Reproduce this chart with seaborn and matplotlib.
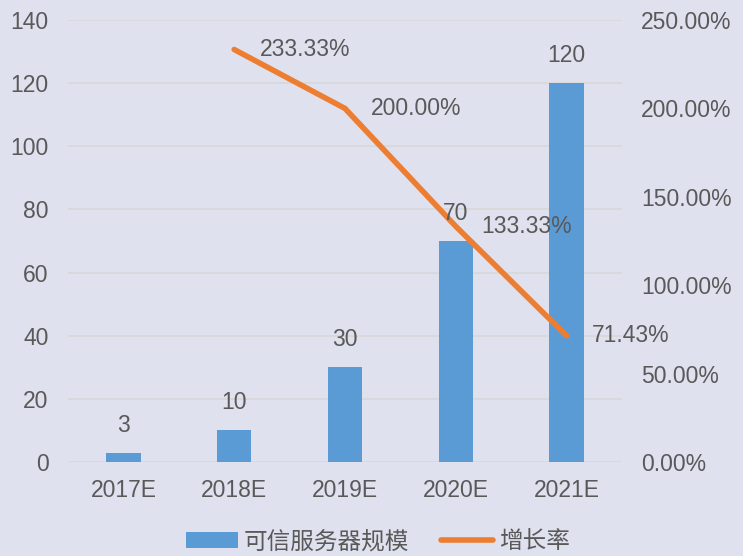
import matplotlib
matplotlib.use("Agg")
import matplotlib.pyplot as plt
import seaborn as sns
import pandas as pd
import numpy as np
from matplotlib.patches import Patch
from matplotlib.lines import Line2D

years = ["2017E", "2018E", "2019E", "2020E", "2021E"]
servers = [3, 10, 30, 70, 120]
growth = [np.nan, 2.3333, 2.0, 1.3333, 0.7143]
growth_labels = ["", "233.33%", "200.00%", "133.33%", "71.43%"]
bar_name = "可信服务器规模"
line_name = "增长率"

BLUE = "#5b9bd5"
ORANGE = "#ed7d31"
TEXT = "#595959"
BG = "#dfe1ee"
FS = 16.5

sns.set_style("white")
plt.rcParams["font.family"] = ["Liberation Sans", "Noto Sans CJK SC", "DejaVu Sans"]

df = pd.DataFrame({"year": years, "servers": servers, "growth": growth})

fig = plt.figure(figsize=(7.43, 5.56), dpi=100, facecolor=BG)
ax = fig.add_axes([0.0915, 0.169, 0.7455, 0.795])
ax.set_facecolor(BG)

sns.barplot(data=df, x="year", y="servers", color=BLUE, width=0.31,
            saturation=1, linewidth=0, ax=ax, zorder=3)
ax.set_ylim(0, 140)
ax.set_yticks(range(0, 141, 20))
ax.set_xlim(-0.5, 4.5)
ax.grid(axis="y", color="#d8d8d8", linewidth=1.2, zorder=0)
ax.set_xlabel("")
ax.set_ylabel("")
for s in ax.spines.values():
    s.set_visible(False)
ax.tick_params(axis="both", length=0, labelsize=FS, colors=TEXT)
ax.tick_params(axis="y", pad=14)
ax.tick_params(axis="x", pad=12)

ax2 = ax.twinx()
sns.lineplot(x=np.arange(len(years)), y=growth, color=ORANGE, linewidth=4,
             ax=ax2, zorder=4)
ax2.set_ylim(0, 2.5)
ax2.set_yticks(np.arange(0, 2.51, 0.5))
ax2.set_yticklabels([f"{t * 100:.2f}%" for t in np.arange(0, 2.51, 0.5)])
for s in ax2.spines.values():
    s.set_visible(False)
ax2.tick_params(axis="y", length=0, labelsize=FS, colors=TEXT, pad=14)
ax2.set_xlim(-0.5, 4.5)

# bar value labels drawn on the top axes so they sit over the line
for i, v in enumerate(servers):
    ax2.text(i, (v + 8.7) * 2.5 / 140, str(v), ha="center", va="center",
             fontsize=FS, color=TEXT, zorder=6)

for i, (g, lab) in enumerate(zip(growth, growth_labels)):
    if lab:
        ax2.text(i + 0.23, g, lab, ha="left", va="center", fontsize=FS, color=TEXT, zorder=6)

handles = [Patch(facecolor=BLUE, edgecolor="none"),
           Line2D([0], [0], color=ORANGE, linewidth=4, solid_capstyle="round")]
fig.legend(handles, [bar_name, line_name], loc="center", bbox_to_anchor=(0.509, 0.026),
           ncol=2, frameon=False, handlelength=2.2, handletextpad=0.25,
           columnspacing=1.35, labelcolor=TEXT,
           prop={"family": ["Noto Sans CJK SC", "DejaVu Sans"], "size": 17})

fig.savefig("out.png", dpi=100, facecolor=BG)
